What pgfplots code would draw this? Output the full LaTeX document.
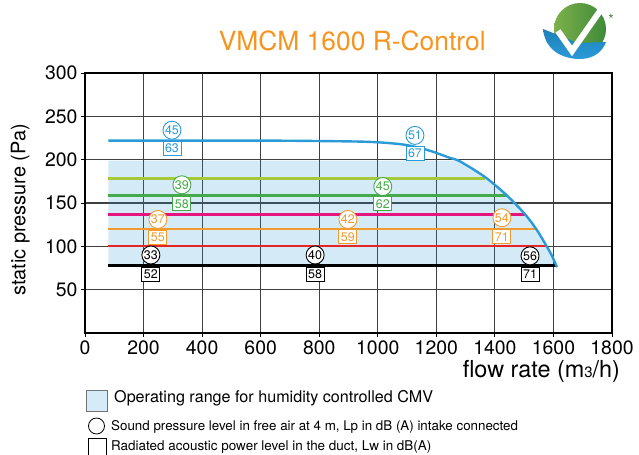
\documentclass[border=0pt]{standalone}
\usepackage{fontspec}
\setmainfont{TeX Gyre Heros}
\usepackage{pgfplots}
\pgfplotsset{compat=1.18}
\definecolor{cblue}{HTML}{2A9BD7}
\definecolor{cfill}{HTML}{D5EBF7}
\definecolor{clime}{HTML}{A5C93A}
\definecolor{cgreen}{HTML}{45AB4A}
\definecolor{cmag}{HTML}{E6157E}
\definecolor{corange}{HTML}{F29A2E}
\definecolor{cred}{HTML}{E52528}
\definecolor{ctitle}{HTML}{F7941D}
\definecolor{lgreen}{HTML}{7DB04A}
\definecolor{dgreen}{HTML}{3E8A3A}
\definecolor{lblue}{HTML}{1F7FB8}
\begin{document}
\begin{tikzpicture}[
  circ/.style={circle, draw=#1, text=#1, fill=white, line width=0.9bp, inner sep=0pt, minimum size=18bp, font=\fontsize{12.5}{13}\selectfont},
  sq/.style={rectangle, draw=#1, text=#1, fill=white, line width=0.9bp, inner sep=0pt, minimum width=18bp, minimum height=14bp, font=\fontsize{12.5}{13}\selectfont}]
\useasboundingbox (0,0) rectangle (639bp,455bp);
\begin{axis}[
  at={(85bp,122bp)}, anchor=south west,
  scale only axis, width=527bp, height=260bp,
  xmin=0, xmax=1800, ymin=0, ymax=300,
  xtick={0,200,...,1800}, ytick={50,100,...,300},
  xtick pos=left, ytick pos=left,
  grid=major, major grid style={black!75, line width=1.1bp},
  axis line style={black, line width=1.2bp},
  tick align=outside, major tick length=4bp, tick style={black, line width=1bp},
  tick label style={font=\fontsize{19.5}{22}\selectfont},
  /pgf/number format/assume math mode=true,
  /pgf/number format/1000 sep={},
  xlabel={flow rate (m{\fontsize{15}{15}\selectfont 3}/h)},
  ylabel={static pressure (Pa)},
  xlabel style={at={(axis description cs:0.866,-0.146)}, anchor=center, font=\fontsize{23.5}{26}\selectfont},
  ylabel style={at={(axis description cs:-0.123,0.473)}, anchor=center, rotate=0, font=\fontsize{20}{24}\selectfont},
  title={VMCM 1600 R-Control},
  title style={at={(axis description cs:0.507,1.1)}, anchor=center, font=\fontsize{26.5}{30}\selectfont, text=ctitle},
]
% operating range
\addplot[draw=none, fill=cblue, fill opacity=0.2] coordinates {
(80,78) (80,199) (1268,199) (1281,198) (1320,190) (1366,180) (1400,170) (1440,159) (1470,149) (1503,137) (1543,119) (1577,100) (1595,89) (1612,78)} -- cycle;
% horizontal operating lines
\addplot[clime, line width=2.6bp] coordinates {(80,178.5) (1366,178.5)};
\addplot[cgreen, line width=2.6bp] coordinates {(80,159) (1440,159)};
\addplot[cmag, line width=2.6bp] coordinates {(80,136.5) (1503,136.5)};
\addplot[corange, line width=2.6bp] coordinates {(80,120) (1543,120)};
\addplot[cred, line width=2.6bp] coordinates {(80,100.5) (1577,100.5)};
\addplot[black, line width=2.8bp] coordinates {(80,78) (1612,78)};
% max curve
\addplot[cblue, line width=2.4bp, smooth] coordinates {
(80,222) (300,222) (600,222) (800,221.5) (973,220.5) (1086,217.5) (1161,212) (1190,209) (1247,202) (1281,198) (1366,180) (1440,159) (1503,137) (1543,119) (1577,100) (1595,89) (1612,76)};
% labels
\node[circ=cblue] at (axis cs:297,234) {45};
\node[sq=cblue] at (axis cs:297,213) {63};
\node[circ=cblue] at (axis cs:1127,228) {51};
\node[sq=cblue] at (axis cs:1127,207) {67};
\node[circ=cgreen] at (axis cs:331,171) {39};
\node[sq=cgreen] at (axis cs:331,149) {58};
\node[circ=cgreen] at (axis cs:1017,169) {45};
\node[sq=cgreen] at (axis cs:1017,149) {62};
\node[circ=corange] at (axis cs:249,131) {37};
\node[sq=corange] at (axis cs:249,110) {55};
\node[circ=corange] at (axis cs:898,131) {42};
\node[sq=corange] at (axis cs:898,111) {59};
\node[circ=corange] at (axis cs:1424,133) {54};
\node[sq=corange] at (axis cs:1424,111) {71};
\node[circ=black] at (axis cs:225,90) {33};
\node[sq=black] at (axis cs:225,68) {52};
\node[circ=black] at (axis cs:786,90) {40};
\node[sq=black] at (axis cs:786,68) {58};
\node[circ=black] at (axis cs:1520,89) {56};
\node[sq=black] at (axis cs:1520,68) {71};
\end{axis}
% legend
\draw[fill=cfill, draw=black!55, line width=0.8bp] (86bp,44bp) rectangle (107bp,65bp);
\node[anchor=west, font=\fontsize{16.2}{18}\selectfont, inner sep=0pt] at (114bp,57bp) {Operating range for humidity controlled CMV};
\draw[black, line width=0.8bp] (96.5bp,29bp) circle (8bp);
\node[anchor=west, font=\fontsize{13.4}{15}\selectfont, inner sep=0pt] at (111bp,28bp) {Sound pressure level in free air at 4 m, Lp in dB (A) intake connected};
\draw[black, line width=0.8bp] (88bp,-1bp) rectangle (106bp,17bp);
\node[anchor=west, font=\fontsize{13.5}{15}\selectfont, inner sep=0pt] at (111bp,8bp) {Radiated acoustic power level in the duct, Lw in dB(A)};
% logo
\shade[left color=lgreen, right color=dgreen] (580bp,426bp) circle (26bp);
\shade[top color=lblue, bottom color=cblue] (543bp,426bp) .. controls (545bp,405bp) and (562bp,396bp) .. (580bp,396bp) .. controls (594bp,396bp) and (603bp,404bp) .. (606bp,413bp) -- (578bp,412bp) -- cycle;
\draw[white, line width=6bp, line join=miter] (558bp,424bp) -- (572bp,404bp) -- (600bp,444bp);
\node[text=dgreen, font=\fontsize{14}{14}\selectfont] at (611bp,436bp) {*};
\end{tikzpicture}
\end{document}
